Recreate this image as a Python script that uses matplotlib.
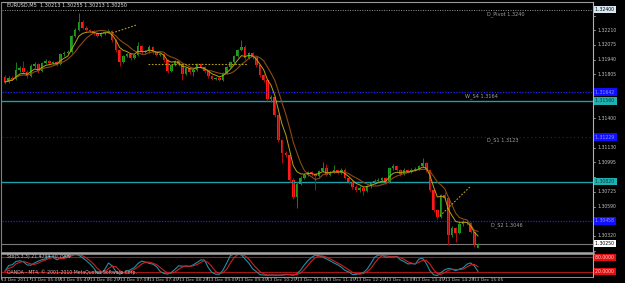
import numpy as np
import pandas as pd
import matplotlib
matplotlib.use("Agg")
import matplotlib.pyplot as plt
from matplotlib.transforms import blended_transform_factory

# EURUSD M5, 13 Dec 2011 04:25 .. 15:05 (129 bars)
first_open = 1.31779
last_bar = [1.30213, 1.30255, 1.30213, 1.30250]   # O H L C of the current bar

closes = [
    1.31733, 1.31770, 1.31761, 1.31843, 1.31862, 1.31825, 1.31788, 1.31880, 1.31898, 1.31834,
    1.31908, 1.31926, 1.31908, 1.31917, 1.31898, 1.31990, 1.31999, 1.32009, 1.32156, 1.32211,
    1.32284, 1.32229, 1.32211, 1.32201, 1.32183, 1.32156, 1.32183, 1.32192, 1.32201, 1.32119,
    1.32027, 1.31917, 1.31972, 1.31990, 1.31954, 1.31981, 1.32064, 1.32009, 1.32018, 1.32055,
    1.32009, 1.31981, 1.31990, 1.31935, 1.31834, 1.31889, 1.31926, 1.31898, 1.31807, 1.31862,
    1.31825, 1.31843, 1.31898, 1.31871, 1.31834, 1.31788, 1.31761, 1.31770, 1.31752, 1.31816,
    1.31871, 1.31917, 1.31972, 1.32027, 1.32055, 1.31954, 1.31999, 1.31963, 1.31889, 1.31798,
    1.31752, 1.31577, 1.31596, 1.31430, 1.31201, 1.31081, 1.31063, 1.30834, 1.30678, 1.30797,
    1.30852, 1.30880, 1.30907, 1.30889, 1.30870, 1.30916, 1.30944, 1.30880, 1.30907, 1.30925,
    1.30898, 1.30925, 1.30852, 1.30815, 1.30769, 1.30742, 1.30760, 1.30733, 1.30779, 1.30806,
    1.30824, 1.30834, 1.30852, 1.30815, 1.30944, 1.30962, 1.30925, 1.30889, 1.30925, 1.30907,
    1.30925, 1.30935, 1.30962, 1.30990, 1.30925, 1.30742, 1.30558, 1.30494, 1.30696, 1.30668,
    1.30329, 1.30393, 1.30347, 1.30430, 1.30448, 1.30439, 1.30356, 1.30237, 1.30250]

highs = [
    1.31795, 1.31785, 1.31785, 1.31920, 1.31880, 1.31930, 1.31840, 1.31895, 1.31915, 1.31910,
    1.31920, 1.31945, 1.31935, 1.31930, 1.31925, 1.32000, 1.32015, 1.32030, 1.32170, 1.32230,
    1.32370, 1.32300, 1.32245, 1.32220, 1.32210, 1.32190, 1.32195, 1.32205, 1.32220, 1.32215,
    1.32130, 1.32040, 1.31985, 1.32005, 1.32000, 1.31995, 1.32100, 1.32075, 1.32030, 1.32070,
    1.32065, 1.32020, 1.32005, 1.32000, 1.31945, 1.31900, 1.31940, 1.31935, 1.31910, 1.31875,
    1.31870, 1.31855, 1.31910, 1.31910, 1.31880, 1.31845, 1.31795, 1.31780, 1.31780, 1.31825,
    1.31885, 1.31930, 1.31985, 1.32040, 1.32119, 1.32070, 1.32010, 1.32010, 1.31975, 1.31900,
    1.31810, 1.31765, 1.31615, 1.31610, 1.31440, 1.31215, 1.31100, 1.31075, 1.30850, 1.30815,
    1.30870, 1.30895, 1.30920, 1.30920, 1.30900, 1.30930, 1.30999, 1.30980, 1.30920, 1.30975,
    1.30935, 1.30940, 1.30940, 1.30865, 1.30830, 1.30785, 1.30780, 1.30775, 1.30790, 1.30820,
    1.30840, 1.30850, 1.30865, 1.30865, 1.30955, 1.30980, 1.30970, 1.30935, 1.30940, 1.30935,
    1.30940, 1.30950, 1.30975, 1.31036, 1.31000, 1.30935, 1.30755, 1.30570, 1.30710, 1.30723,
    1.30680, 1.30410, 1.30405, 1.30445, 1.30465, 1.30460, 1.30450, 1.30370, 1.30255]

lows = [
    1.31715, 1.31725, 1.31750, 1.31755, 1.31830, 1.31815, 1.31770, 1.31780, 1.31865, 1.31820,
    1.31825, 1.31900, 1.31890, 1.31895, 1.31885, 1.31890, 1.31975, 1.31990, 1.32000, 1.32145,
    1.32200, 1.32220, 1.32200, 1.32190, 1.32170, 1.32145, 1.32145, 1.32170, 1.32180, 1.32105,
    1.32010, 1.31885, 1.31905, 1.31960, 1.31935, 1.31945, 1.31970, 1.31995, 1.32000, 1.32005,
    1.31995, 1.31970, 1.31970, 1.31920, 1.31820, 1.31825, 1.31880, 1.31885, 1.31752, 1.31795,
    1.31810, 1.31788, 1.31835, 1.31860, 1.31820, 1.31775, 1.31750, 1.31750, 1.31740, 1.31745,
    1.31805, 1.31860, 1.31905, 1.31960, 1.32015, 1.31940, 1.31945, 1.31950, 1.31875, 1.31780,
    1.31735, 1.31560, 1.31555, 1.31410, 1.31180, 1.30990, 1.31045, 1.30815, 1.30660, 1.30576,
    1.30785, 1.30840, 1.30870, 1.30875, 1.30742, 1.30860, 1.30905, 1.30870, 1.30870, 1.30895,
    1.30885, 1.30890, 1.30840, 1.30800, 1.30755, 1.30720, 1.30725, 1.30696, 1.30720, 1.30765,
    1.30795, 1.30815, 1.30820, 1.30800, 1.30805, 1.30930, 1.30915, 1.30875, 1.30880, 1.30895,
    1.30895, 1.30915, 1.30925, 1.30955, 1.30910, 1.30725, 1.30540, 1.30475, 1.30485, 1.30655,
    1.30237, 1.30315, 1.30264, 1.30335, 1.30415, 1.30425, 1.30345, 1.30215, 1.30213]

# horizontal levels
level_names = ["D_Pivot", "W_S4", "D_S1", "D_S2"]
level_prices = [1.32400, 1.31642, 1.31229, 1.30458]
hline_prices = [1.31560, 1.30820]          # teal solid lines
price_ticks = [1.30185 + 0.00135 * k for k in range(17)]

time_labels = ["13 Dec 2011", "13 Dec 05:05", "13 Dec 05:45", "13 Dec 06:25", "13 Dec 07:05",
               "13 Dec 07:45", "13 Dec 08:25", "13 Dec 09:05", "13 Dec 09:45", "13 Dec 10:25",
               "13 Dec 11:05", "13 Dec 11:45", "13 Dec 12:25", "13 Dec 13:05", "13 Dec 13:45",
               "13 Dec 14:25", "13 Dec 15:05"]

# dotted trend objects: (bar0, price0) -> (bar1, price1)
trend_x0 = [29.0, 38.7, 117.7]
trend_y0 = [1.32184, 1.31904, 1.30504]
trend_x1 = [35.6, 65.5, 125.8]
trend_y1 = [1.32258, 1.31904, 1.30770]

opens = [first_open] + closes[:-1]
opens[-1] = last_bar[0]
n = len(closes)
idx = np.arange(n)
c = pd.Series(closes)
ma_fast = c.ewm(span=5, adjust=False).mean()
ma_slow = c.rolling(8, min_periods=1).mean()

hh = pd.Series(highs).rolling(5, min_periods=1).max()
ll = pd.Series(lows).rolling(5, min_periods=1).min()
k_main = (c - ll).rolling(3, min_periods=1).sum() / (hh - ll).rolling(3, min_periods=1).sum() * 100
k_sig = k_main.rolling(3, min_periods=1).mean()

W, H = 625, 283
fig = plt.figure(figsize=(6.25, 2.83), dpi=100)
fig.patch.set_facecolor("black")

def px_axes(x0, y0, x1, y1):
    return fig.add_axes([x0 / W, 1 - y1 / H, (x1 - x0) / W, (y1 - y0) / H])

bar_px = 3.695
xl = ((2 - 5) / bar_px, (593 - 5) / bar_px)

ax = px_axes(2, 2, 593, 252)
ax.set_facecolor("black")
ax.set_xlim(*xl)
ax.set_ylim(1.30173, 1.32469)
ax.axis("off")

# level lines
ax.axhline(level_prices[0], color="#9a9a9a", lw=0.7, ls=(0, (1, 1.5)))
ax.axhline(level_prices[1], color="#2020ff", lw=0.9, ls=(0, (1, 1.2)))
ax.axhline(level_prices[2], color="#2020c8", lw=0.7, ls=(0, (1, 3)))
ax.axhline(level_prices[3], color="#2020ff", lw=0.9, ls=(0, (1, 1.2)))
for p in hline_prices:
    ax.axhline(p, color="#1aa0a8", lw=1.0)
ax.axhline(last_bar[3], color="#7a7a7a", lw=0.8)

level_text_x = [130.5, 124.5, 130.5, 131.5]
level_text_dy = [-0.00045, -0.00037, -0.00032, -0.00037]
for name, p, tx, dy in zip(level_names, level_prices, level_text_x, level_text_dy):
    ax.text(tx, p + dy, f"{name} {p:.4f}", color="#a0a0a0", fontsize=3.6,
            ha="left", va="center")

# candles
for i in range(n):
    o, h, l, cl = opens[i], highs[i], lows[i], closes[i]
    col = "#1f9e1f" if cl >= o else "#ff1a1a"
    wick = "#1f7a1f" if cl >= o else "#b01010"
    ax.vlines(i, l, h, color=wick, lw=0.7)
    ax.bar(i, max(abs(cl - o), 0.00004), bottom=min(o, cl), width=0.7,
           color=col, lw=0)

ax.plot(idx, ma_slow, color="#8a4b14", lw=0.8)
ax.plot(idx, ma_fast, color="#b8a214", lw=0.7)

for x0, y0, x1, y1 in zip(trend_x0, trend_y0, trend_x1, trend_y1):
    ax.plot([x0, x1], [y0, y1], color="#b8a010", lw=0.8, ls=(0, (1.5, 1.5)))

ax.text(0.6, 1.32435, "EURUSD,M5  %.5f %.5f %.5f %.5f" % tuple(last_bar),
        color="#e0e0e0", fontsize=3.6, va="center", ha="left")

# right price scale
tr = blended_transform_factory(ax.transAxes, ax.transData)
box_prices = [level_prices[0], level_prices[1], hline_prices[0], level_prices[2],
              hline_prices[1], level_prices[3], last_bar[3]]
box_colors = ["#d8e8f0", "#1010ff", "#20b0b0", "#1010ff", "#20b0b0", "#1010ff", "#ffffff"]
box_text = ["black", "#9090ff", "#004040", "#9090ff", "#004040", "#9090ff", "black"]
min_gap = 0.00058
for p in price_ticks:
    ax.plot([1.0, 1.004], [p, p], transform=tr, color="#c0c0c0", lw=0.5, clip_on=False)
    if p < 1.3019 or min(abs(p - b) for b in box_prices) < min_gap:
        continue
    ax.text(1.007, p, f"{p:.5f}", transform=tr, color="#c0c0c0", fontsize=3.3,
            va="center", ha="left", clip_on=False)
for p, fc, tc in zip(box_prices, box_colors, box_text):
    ax.text(1.003, p, f"{p:.5f} ", transform=tr, color=tc, fontsize=3.3,
            va="center", ha="left", clip_on=False,
            bbox=dict(boxstyle="square,pad=0.25", fc=fc, ec="none"))

# frame
fig.add_artist(plt.Line2D([2 / W, 593 / W], [1 - 1.5 / H, 1 - 1.5 / H], color="#9a9a9a", lw=0.8))
fig.add_artist(plt.Line2D([1.5 / W, 1.5 / W], [1 - 277 / H, 1 - 1.5 / H], color="#808080", lw=0.8))
fig.add_artist(plt.Line2D([593 / W, 593 / W], [1 - 277 / H, 1 - 1.5 / H], color="#b0b0b0", lw=0.8))
fig.add_artist(plt.Line2D([2 / W, 593 / W], [1 - 253.3 / H, 1 - 253.3 / H], color="#a8a8a8", lw=1.8))
fig.add_artist(plt.Line2D([2 / W, 593 / W], [1 - 276.8 / H, 1 - 276.8 / H], color="#a8a8a8", lw=0.6))

# stochastic window
ax2 = px_axes(2, 254.5, 593, 276)
ax2.set_facecolor("black")
ax2.set_xlim(*xl)
ax2.set_ylim(2.1, 91.7)
ax2.axis("off")
for lv in (80, 20):
    ax2.axhline(lv, color="#a81414", lw=0.8)
ax2.plot(idx, k_main, color="#1e90a8", lw=0.8)
ax2.plot(idx, k_sig, color="#d02020", lw=0.8)
ax2.text(0.6, 84, "Sto(5,3,3) %.4f %.4f" % (k_main.iloc[-1], k_sig.iloc[-1]),
         color="#c0c0c0", fontsize=3.3, va="center")
ax2.text(0.6, 16, "OANDA - MT4, \u00a9 2001-2010 MetaQuotes Software Corp.",
         color="#c0c0c0", fontsize=3.3, va="center")
tr2 = blended_transform_factory(ax2.transAxes, ax2.transData)
for lv in (80, 20):
    ax2.text(1.003, lv, f"{lv:.4f} ", transform=tr2, color="#ffd0d0", fontsize=3.3,
             va="center", ha="left", clip_on=False,
             bbox=dict(boxstyle="square,pad=0.25", fc="#e01010", ec="none"))

# time axis
for k, lab in enumerate(time_labels):
    xp = 5 + bar_px * 8 * k - 4.5
    fig.text((xp + 0.8) / W, 1 - 279.8 / H, lab, color="#c0c0c0", fontsize=3.2,
             ha="left", va="center")
    fig.add_artist(plt.Line2D([xp / W, xp / W], [1 - 277 / H, 1 - 279 / H], color="#c0c0c0", lw=0.5))

fig.savefig("out.png", dpi=100, facecolor="black")
